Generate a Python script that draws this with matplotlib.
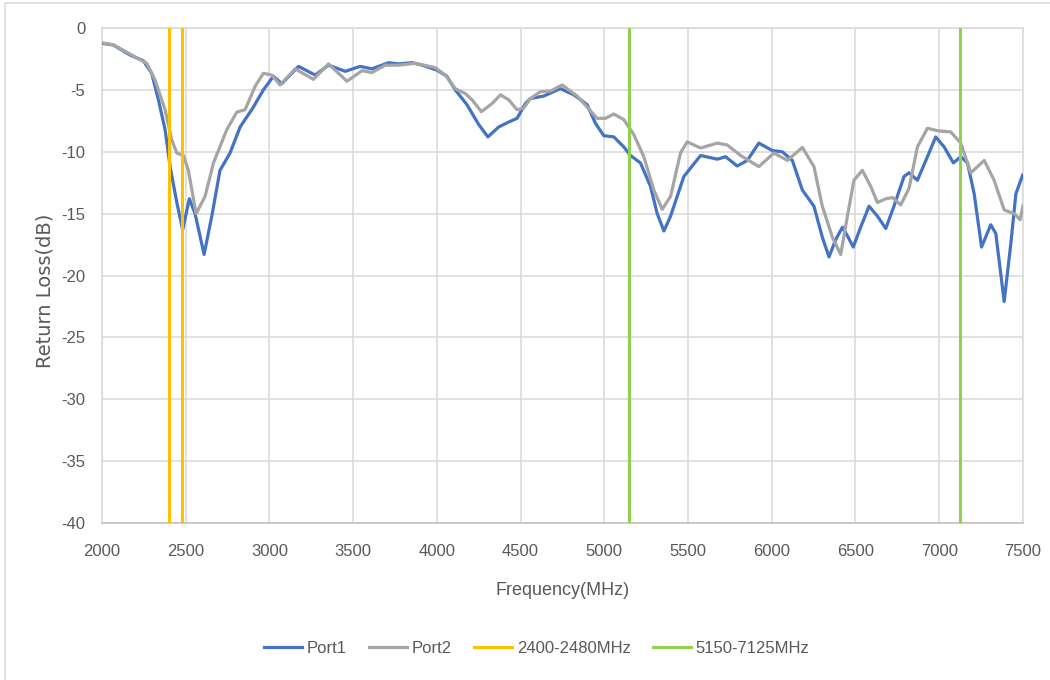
import matplotlib
matplotlib.use("Agg")
import matplotlib.pyplot as plt
from matplotlib.patches import Rectangle

# Port1 (blue) trace
port1_f = [2000, 2068, 2167, 2247, 2297, 2337, 2377, 2407, 2447, 2482, 2522, 2556,
           2610, 2656, 2705, 2765, 2825, 2904, 2964, 3024, 3074, 3174, 3273, 3353,
           3453, 3542, 3612, 3712, 3771, 3851, 3911, 4000, 4060, 4110, 4180, 4250,
           4305, 4369, 4429, 4479, 4529, 4559, 4638, 4738, 4818, 4898, 4947, 4997,
           5057, 5116, 5156, 5216, 5276, 5316, 5356, 5396, 5475, 5575, 5675, 5724,
           5794, 5854, 5923, 6003, 6063, 6123, 6183, 6252, 6302, 6342, 6382, 6422,
           6456, 6487, 6531, 6581, 6631, 6681, 6730, 6790, 6820, 6870, 6930, 6979,
           7029, 7085, 7129, 7169, 7209, 7253, 7308, 7338, 7388, 7428, 7458, 7498]
port1_db = [-1.24, -1.37, -2.18, -2.64, -3.66, -5.8, -8.2, -11.2, -14.1, -16.3, -13.8, -15.0,
            -18.3, -15.2, -11.5, -10.1, -8.0, -6.4, -5.0, -3.9, -4.5, -3.1, -3.8, -3.0,
            -3.5, -3.1, -3.3, -2.8, -2.9, -2.8, -3.0, -3.4, -3.9, -5.0, -6.2, -7.8,
            -8.8, -8.0, -7.6, -7.3, -6.1, -5.7, -5.5, -4.9, -5.4, -6.2, -7.7, -8.7,
            -8.8, -9.6, -10.3, -10.9, -12.8, -15.0, -16.4, -15.2, -12.0, -10.3, -10.6, -10.4,
            -11.15, -10.7, -9.3, -9.9, -10.0, -10.7, -13.1, -14.4, -16.9, -18.5, -17.1, -16.1,
            -16.9, -17.7, -16.1, -14.4, -15.2, -16.2, -14.4, -12.0, -11.7, -12.3, -10.4, -8.8,
            -9.6, -10.9, -10.4, -10.9, -13.4, -17.7, -15.9, -16.6, -22.1, -17.4, -13.4, -11.9]

# Port2 (gray) trace
port2_f = [2000, 2068, 2167, 2267, 2317, 2377, 2417, 2447, 2486, 2516, 2562, 2616,
           2666, 2746, 2805, 2855, 2915, 2964, 3014, 3064, 3154, 3263, 3353, 3463,
           3553, 3612, 3692, 3771, 3871, 3990, 4050, 4110, 4170, 4210, 4266, 4330,
           4380, 4429, 4479, 4517, 4559, 4618, 4678, 4748, 4838, 4898, 4957, 5007,
           5057, 5116, 5176, 5236, 5296, 5346, 5396, 5455, 5495, 5575, 5675, 5734,
           5814, 5923, 6013, 6093, 6183, 6252, 6302, 6362, 6412, 6452, 6491, 6541,
           6591, 6631, 6681, 6721, 6770, 6820, 6870, 6930, 6990, 7069, 7129, 7189,
           7269, 7328, 7388, 7448, 7483, 7500]
port2_db = [-1.2, -1.35, -2.1, -2.85, -4.2, -6.6, -9.05, -10.1, -10.3, -11.5, -15.0, -13.6,
            -10.9, -8.2, -6.8, -6.6, -4.7, -3.66, -3.8, -4.6, -3.3, -4.15, -2.9, -4.3,
            -3.45, -3.6, -3.0, -3.0, -2.85, -3.2, -3.8, -4.9, -5.3, -5.8, -6.76, -6.1,
            -5.4, -5.8, -6.6, -6.5, -5.7, -5.15, -5.1, -4.6, -5.5, -6.4, -7.3, -7.3,
            -6.95, -7.4, -8.6, -10.4, -13.1, -14.65, -13.6, -10.1, -9.2, -9.7, -9.3, -9.45,
            -10.3, -11.2, -10.1, -10.7, -9.65, -11.2, -14.4, -16.9, -18.3, -15.2, -12.3, -11.5,
            -12.8, -14.1, -13.8, -13.7, -14.3, -12.95, -9.6, -8.1, -8.3, -8.4, -9.3, -11.7,
            -10.7, -12.3, -14.7, -15.0, -15.5, -14.4]

band_24 = [2400, 2480]
band_5_7 = [5150, 7125]

x_ticks = list(range(2000, 7501, 500))
y_ticks = list(range(-40, 1, 5))

plt.rcParams['axes.unicode_minus'] = False
font = ['Liberation Sans', 'DejaVu Sans']
txt = '#595959'
grid = '#d9d9d9'

fig = plt.figure(figsize=(10.5, 6.8), dpi=100)
ax = fig.add_axes([0.0971, 0.2309, 0.8771, 0.7279])

ax.plot(port1_f, port1_db, color='#4472C4', lw=2.3, label='Port1', zorder=3)
ax.plot(port2_f, port2_db, color='#A5A5A5', lw=2.3, label='Port2', zorder=3)
for i, f in enumerate(band_24):
    ax.axvline(f, color='#FFC000', lw=2.2, zorder=4,
               label='2400-2480MHz' if i == 0 else None)
for i, f in enumerate(band_5_7):
    ax.axvline(f, color='#92D050', lw=2.2, zorder=4,
               label='5150-7125MHz' if i == 0 else None)

ax.set_xlim(2000, 7500)
ax.set_ylim(-40, 0)
ax.set_xticks(x_ticks)
ax.set_yticks(y_ticks)
ax.grid(True, color=grid, lw=1.1, zorder=0)
ax.set_axisbelow(True)
for s in ax.spines.values():
    s.set_color(grid)
    s.set_linewidth(1.1)
ax.spines['bottom'].set_color('#bfbfbf')
ax.tick_params(length=0, colors=txt)
ax.tick_params(axis='x', pad=15)
ax.tick_params(axis='y', pad=12)
for lab in ax.get_xticklabels() + ax.get_yticklabels():
    lab.set_family(font)
    lab.set_fontsize(12)

ax.set_xlabel('Frequency(MHz)', family=font, fontsize=13, color=txt, labelpad=17)
ax.set_ylabel('Return Loss(dB)', family=['DejaVu Sans'], fontsize=14,
              color=txt, va='center')
ax.yaxis.set_label_coords(-0.062, 0.47)

leg = fig.legend(loc='center', bbox_to_anchor=(0.511, 0.047), ncol=4, frameon=False,
                 handlelength=2.3, handletextpad=0.3, columnspacing=1.3,
                 prop={'family': font, 'size': 12})
for t in leg.get_texts():
    t.set_color(txt)

# chart area border
fig.patches.append(Rectangle((5 / 1050, -0.1), 1.2, 1.1 - 3 / 680,
                             transform=fig.transFigure, fill=False,
                             edgecolor=grid, lw=1.1))

fig.savefig('out.png', dpi=100)
